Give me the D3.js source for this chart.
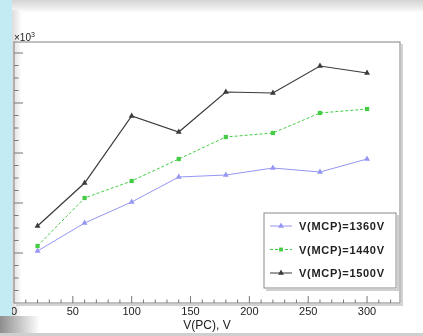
<!DOCTYPE html>
<meta charset="utf-8">
<style>
    body { margin: 0; background: white; }
    svg { display: block; }
    text { font-family: "Liberation Sans", Arial, sans-serif; fill: #222; }
</style>
<body>
    <script src="https://d3js.org/d3.v7.min.js"></script>
    <script>
        var width = 423,
            height = 336;

        // V(PC) in volts
        var vpc = [20, 60, 100, 140, 180, 220, 260, 300];
        // signal, x10^3
        var mcp1360 = [1.04, 1.60, 2.02, 2.52, 2.56, 2.70, 2.62, 2.88];
        var mcp1440 = [1.14, 2.10, 2.44, 2.88, 3.32, 3.40, 3.80, 3.88];
        var mcp1500 = [1.54, 2.40, 3.74, 3.42, 4.22, 4.20, 4.74, 4.60];
        var seriesNames = ["V(MCP)=1360V", "V(MCP)=1440V", "V(MCP)=1500V"];
        var xTicks = [50, 100, 150, 200, 250, 300];

        var series = [
            { name: seriesNames[0], values: mcp1360, color: "#9496f2", dash: null, shape: d3.symbolTriangle },
            { name: seriesNames[1], values: mcp1440, color: "#45cc45", dash: "3,2", shape: d3.symbolSquare },
            { name: seriesNames[2], values: mcp1500, color: "#3a3a3a", dash: null, shape: d3.symbolTriangle }
        ];

        var x = d3.scaleLinear().domain([0, 328]).range([14, 400]);
        var y = d3.scaleLinear().domain([0, 5.22]).range([303, 42]);

        var svg = d3.select("body").append("svg")
            .attr("width", width)
            .attr("height", height);

        var defs = svg.append("defs");
        defs.append("filter").attr("id", "soft")
            .append("feGaussianBlur").attr("stdDeviation", 0.75);

        var topShade = defs.append("linearGradient").attr("id", "topShade")
            .attr("x1", 0).attr("y1", 0).attr("x2", 0).attr("y2", 1);
        topShade.append("stop").attr("offset", "0%").attr("stop-color", "#d4d4d4");
        topShade.append("stop").attr("offset", "60%").attr("stop-color", "#ececec");
        topShade.append("stop").attr("offset", "100%").attr("stop-color", "#ffffff");

        var leftShade = defs.append("linearGradient").attr("id", "leftShade")
            .attr("x1", 0).attr("y1", 0).attr("x2", 1).attr("y2", 0);
        leftShade.append("stop").attr("offset", "0%").attr("stop-color", "#dcdcdc");
        leftShade.append("stop").attr("offset", "100%").attr("stop-color", "#ffffff");

        var cornerShade = defs.append("linearGradient").attr("id", "cornerShade")
            .attr("x1", 0).attr("y1", 0).attr("x2", 1).attr("y2", 0);
        cornerShade.append("stop").attr("offset", "0%").attr("stop-color", "#8e8e8e");
        cornerShade.append("stop").attr("offset", "100%").attr("stop-color", "#ffffff");

        // page surroundings
        svg.append("rect").attr("x", 0).attr("y", 0).attr("width", width).attr("height", 13)
            .attr("fill", "url(#topShade)");
        svg.append("rect").attr("x", 12).attr("y", 10).attr("width", 10).attr("height", 306)
            .attr("fill", "url(#leftShade)");

        var g = svg.append("g").attr("filter", "url(#soft)");

        // frame shadow + frame
        g.append("path")
            .attr("d", "M402,44V305H16")
            .attr("fill", "none").attr("stroke", "#d2d2d2").attr("stroke-width", 2);
        g.append("rect")
            .attr("x", x(0)).attr("y", y(5.22))
            .attr("width", x(328) - x(0)).attr("height", y(0) - y(5.22))
            .attr("fill", "none").attr("stroke", "#808080").attr("stroke-width", 1);

        // x axis ticks (inside frame)
        var xMinor = d3.range(10, 330, 10);
        g.selectAll(".xt").data(xMinor).enter().append("line")
            .attr("x1", function(d) { return x(d); })
            .attr("x2", function(d) { return x(d); })
            .attr("y1", y(0))
            .attr("y2", function(d) { return d % 50 === 0 ? y(0) - 7 : y(0) - 3.5; })
            .attr("stroke", "#777");

        g.selectAll(".xl").data([0].concat(xTicks)).enter().append("text")
            .attr("x", function(d) { return x(d); })
            .attr("y", 315)
            .attr("text-anchor", "middle")
            .style("font-size", "11px")
            .text(function(d) { return d; });

        g.append("text")
            .attr("x", (x(0) + x(328)) / 2)
            .attr("y", 329)
            .attr("text-anchor", "middle")
            .style("font-size", "12px")
            .text("V(PC), V");

        // y axis ticks
        var yMinor = d3.range(0.25, 5.2, 0.25);
        g.selectAll(".yt").data(yMinor).enter().append("line")
            .attr("y1", function(d) { return y(d); })
            .attr("y2", function(d) { return y(d); })
            .attr("x1", x(0))
            .attr("x2", function(d) { return Math.abs(d - Math.round(d)) < 1e-6 ? x(0) + 9 : x(0) + 4.5; })
            .attr("stroke", "#777");

        g.selectAll(".yl").data([1, 2, 3, 4, 5]).enter().append("text")
            .attr("x", x(0) - 4)
            .attr("y", function(d) { return y(d) + 4; })
            .attr("text-anchor", "end")
            .style("font-size", "11px")
            .text(function(d) { return d; });

        var expo = g.append("text").attr("x", 14).attr("y", 41).style("font-size", "10px");
        expo.append("tspan").text("\u00d710");
        expo.append("tspan").attr("dy", -4).style("font-size", "7px").text("3");

        // series
        var line = d3.line()
            .x(function(d, i) { return x(vpc[i]); })
            .y(function(d) { return y(d); });

        series.forEach(function(s) {
            g.append("path")
                .datum(s.values)
                .attr("d", line)
                .attr("fill", "none")
                .attr("stroke", s.color)
                .attr("stroke-width", s.color === "#3a3a3a" ? 1.2 : 1)
                .attr("stroke-dasharray", s.dash);
            g.selectAll(null).data(s.values).enter().append("path")
                .attr("transform", function(d, i) { return "translate(" + x(vpc[i]) + "," + y(d) + ")"; })
                .attr("d", d3.symbol().type(s.shape).size(s.shape === d3.symbolSquare ? 18 : 15))
                .attr("fill", s.color);
        });

        // legend
        var lg = g.append("g").attr("transform", "translate(264,213)");
        lg.append("path").attr("d", "M134,2V77H2")
            .attr("fill", "none").attr("stroke", "#d0d0d0").attr("stroke-width", 2);
        lg.append("rect").attr("width", 132).attr("height", 75)
            .attr("fill", "white").attr("stroke", "#8a8a8a");
        series.forEach(function(s, i) {
            var ly = 13 + i * 23.5;
            lg.append("line").attr("x1", 6).attr("x2", 28).attr("y1", ly).attr("y2", ly)
                .attr("stroke", s.color).attr("stroke-dasharray", s.dash);
            lg.append("path").attr("transform", "translate(17," + ly + ")")
                .attr("d", d3.symbol().type(s.shape).size(15))
                .attr("fill", s.color);
            lg.append("text").attr("x", 35).attr("y", ly + 4)
                .style("font-size", "11px").style("font-weight", "bold")
                .attr("textLength", 85)
                .text(s.name);
        });

        // blue side panel and bottom edge
        svg.append("rect").attr("x", 0).attr("y", 0).attr("width", 12).attr("height", 316)
            .attr("fill", "#c3ebf3");
        svg.append("rect").attr("x", 0).attr("y", 316).attr("width", 40).attr("height", 17)
            .attr("fill", "url(#cornerShade)");
        svg.append("rect").attr("x", 0).attr("y", 333).attr("width", width).attr("height", 3)
            .attr("fill", "#cfcfcf");
    </script>
</body>
</html>
